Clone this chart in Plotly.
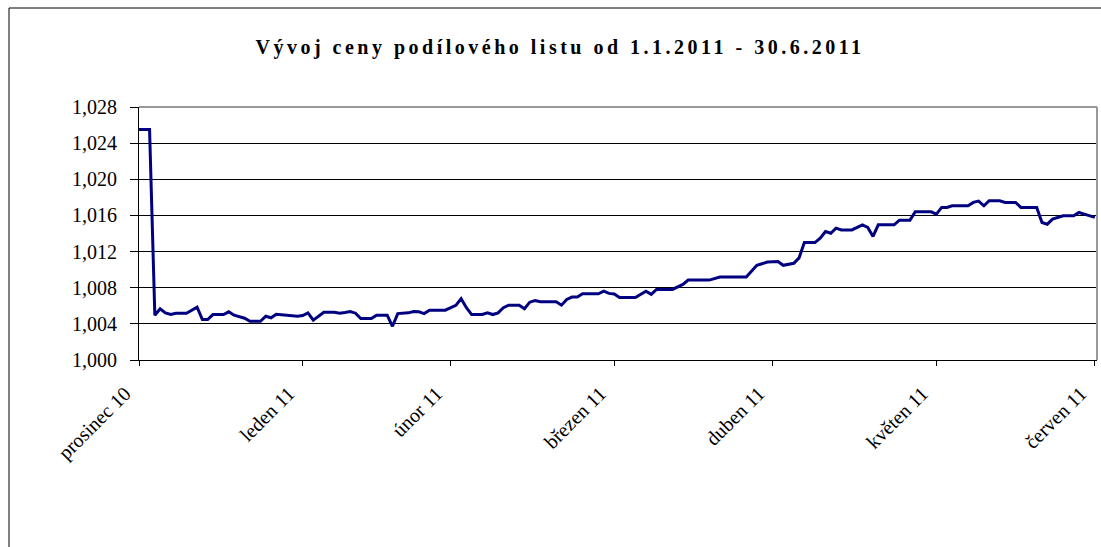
import plotly.graph_objects as go

# ---- data ----
dates = [
    "2010-12-30", "2011-01-02", "2011-01-03", "2011-01-04", "2011-01-05", "2011-01-06", "2011-01-07",
    "2011-01-09", "2011-01-11", "2011-01-12", "2011-01-13", "2011-01-14", "2011-01-16", "2011-01-17",
    "2011-01-18", "2011-01-20", "2011-01-21", "2011-01-23", "2011-01-24", "2011-01-25", "2011-01-26",
    "2011-01-28", "2011-01-30", "2011-01-31",
    "2011-02-01", "2011-02-02", "2011-02-04", "2011-02-06", "2011-02-07", "2011-02-08", "2011-02-09",
    "2011-02-10", "2011-02-11", "2011-02-13", "2011-02-14", "2011-02-16", "2011-02-17", "2011-02-18",
    "2011-02-20", "2011-02-21", "2011-02-22", "2011-02-23", "2011-02-24", "2011-02-27",
    "2011-03-01", "2011-03-02", "2011-03-03", "2011-03-04", "2011-03-06", "2011-03-07", "2011-03-08",
    "2011-03-09", "2011-03-10", "2011-03-11", "2011-03-13", "2011-03-14", "2011-03-15", "2011-03-16",
    "2011-03-17", "2011-03-20", "2011-03-21", "2011-03-22", "2011-03-23", "2011-03-24", "2011-03-25",
    "2011-03-28", "2011-03-29", "2011-03-30", "2011-03-31",
    "2011-04-01", "2011-04-04", "2011-04-06", "2011-04-07", "2011-04-08", "2011-04-11", "2011-04-13",
    "2011-04-14", "2011-04-18", "2011-04-20", "2011-04-25", "2011-04-26", "2011-04-27", "2011-04-29",
    "2011-05-01", "2011-05-02", "2011-05-04", "2011-05-05", "2011-05-06", "2011-05-08", "2011-05-09",
    "2011-05-10", "2011-05-11", "2011-05-12", "2011-05-13", "2011-05-15", "2011-05-17", "2011-05-18",
    "2011-05-19", "2011-05-20", "2011-05-23", "2011-05-24", "2011-05-26", "2011-05-27", "2011-05-30",
    "2011-05-31",
    "2011-06-01", "2011-06-02", "2011-06-03", "2011-06-06", "2011-06-07", "2011-06-08", "2011-06-09",
    "2011-06-10", "2011-06-12", "2011-06-13", "2011-06-15", "2011-06-16", "2011-06-19", "2011-06-20",
    "2011-06-21", "2011-06-22", "2011-06-24", "2011-06-26", "2011-06-27", "2011-06-28", "2011-06-30",
]
prices = [
    1.0255, 1.0255, 1.00496, 1.00567, 1.00522, 1.00503, 1.00518,
    1.00518, 1.00584, 1.00448, 1.00448, 1.00503, 1.00503, 1.00533,
    1.00496, 1.00462, 1.00429, 1.00429, 1.00484, 1.00467, 1.00507,
    1.00492, 1.00484, 1.00492,
    1.00522, 1.00440, 1.00529, 1.00529, 1.00518, 1.00526, 1.00537,
    1.00518, 1.00459, 1.00459, 1.00496, 1.00496, 1.00373, 1.00514,
    1.00522, 1.00537, 1.00533, 1.00514, 1.00551, 1.00551,
    1.00605, 1.00678, 1.00578, 1.00503, 1.00503, 1.00522, 1.00503,
    1.00522, 1.00578, 1.00607, 1.00607, 1.00567, 1.00640, 1.00659,
    1.00644, 1.00644, 1.00607, 1.00670, 1.00696, 1.00696, 1.00733,
    1.00733, 1.00762, 1.00737, 1.00730,
    1.00692, 1.00692, 1.00762, 1.00726, 1.00781, 1.00781, 1.00837,
    1.00884, 1.00884, 1.00918, 1.00918, 1.00985, 1.01048, 1.01084,
    1.01089, 1.01048, 1.01070, 1.01130, 1.01300, 1.01300, 1.01348,
    1.01422, 1.01403, 1.01459, 1.01440, 1.01440, 1.01496, 1.01467,
    1.01367, 1.01496, 1.01496, 1.01548, 1.01548, 1.01640, 1.01640,
    1.01614,
    1.01689, 1.01689, 1.01707, 1.01707, 1.01744, 1.01759, 1.01707,
    1.01763, 1.01763, 1.01744, 1.01744, 1.01689, 1.01689, 1.01522,
    1.01503, 1.01559, 1.01596, 1.01596, 1.01633, 1.01614, 1.01578,
]
tick_dates = ["2010-12-31", "2011-01-31", "2011-02-28", "2011-03-31",
              "2011-04-30", "2011-05-31", "2011-06-30"]
tick_labels = ["prosinec 10", "leden 11", "únor 11", "březen 11",
               "duben 11", "květen 11", "červen 11"]
y_ticks = [1.000, 1.004, 1.008, 1.012, 1.016, 1.020, 1.024, 1.028]
title_text = "Vývoj ceny podílového listu od 1.1.2011 - 30.6.2011"

# ---- layout geometry (pixels) ----
W, H = 1101, 547
PL, PR, PT, PB = 139, 1097, 107, 360  # plot area box
FONT = "Liberation Serif, Times New Roman, serif"


def px_to_paper_x(px):
    return (px - PL) / (PR - PL)


def px_to_paper_y(py):
    return (PB - py) / (PB - PT)


fig = go.Figure()
fig.add_trace(go.Scatter(
    x=dates, y=prices, mode="lines",
    line=dict(color="#000080", width=3),
    hoverinfo="x+y", showlegend=False,
))

fig.update_layout(
    width=W, height=H,
    margin=dict(l=PL, r=W - PR, t=PT, b=H - PB, pad=0),
    paper_bgcolor="white", plot_bgcolor="white",
    separators=",.",
    font=dict(family=FONT, size=20, color="black"),
    title=dict(text="<b>" + title_text + "</b>", x=560 / W, xref="container",
               xanchor="center", y=1 - 47 / H, yref="container", yanchor="middle",
               font=dict(family=FONT, size=20, color="black")),
    xaxis=dict(
        type="date",
        range=["2010-12-31", "2011-06-30 10:00"],
        tickmode="array", tickvals=tick_dates, ticktext=tick_labels,
        tickangle=-45, ticks="outside", ticklen=5, tickcolor="black", tickwidth=1,
        ticklabelstandoff=8, ticklabelshift=-14, ticklabeloverflow="allow",
        showgrid=False, showline=True, linecolor="black", linewidth=1,
        zeroline=False, tickfont=dict(family=FONT, size=20, color="black"),
    ),
    yaxis=dict(
        range=[1.000, 1.028],
        tickmode="array", tickvals=y_ticks, tickformat=".3f",
        ticks="outside", ticklen=8, tickcolor="black", tickwidth=1,
        ticklabelstandoff=9,
        showgrid=True, gridcolor="black", gridwidth=1,
        showline=True, linecolor="black", linewidth=1,
        zeroline=False, tickfont=dict(family=FONT, size=20, color="black"),
    ),
    shapes=[
        # gray top/right edges of the plot area
        dict(type="line", xref="paper", yref="paper", x0=0, x1=1, y0=1, y1=1,
             line=dict(color="#999999", width=2), layer="above"),
        dict(type="line", xref="paper", yref="paper", x0=1, x1=1, y0=0, y1=1,
             line=dict(color="#999999", width=2), layer="above"),
        # outer chart-area frame
        dict(type="rect", xref="paper", yref="paper",
             x0=px_to_paper_x(9), x1=px_to_paper_x(1120),
             y0=px_to_paper_y(570), y1=px_to_paper_y(8),
             line=dict(color="black", width=1), fillcolor="rgba(0,0,0,0)", layer="above"),
    ],
)

post = (
    "document.body.style.margin='0px';"
    "document.body.style.overflow='hidden';"
    "document.querySelectorAll('.gtitle').forEach(function(e){e.style.letterSpacing='3.5px';});"
)
fig.write_html("out.html", post_script=post, config={"displayModeBar": False})
